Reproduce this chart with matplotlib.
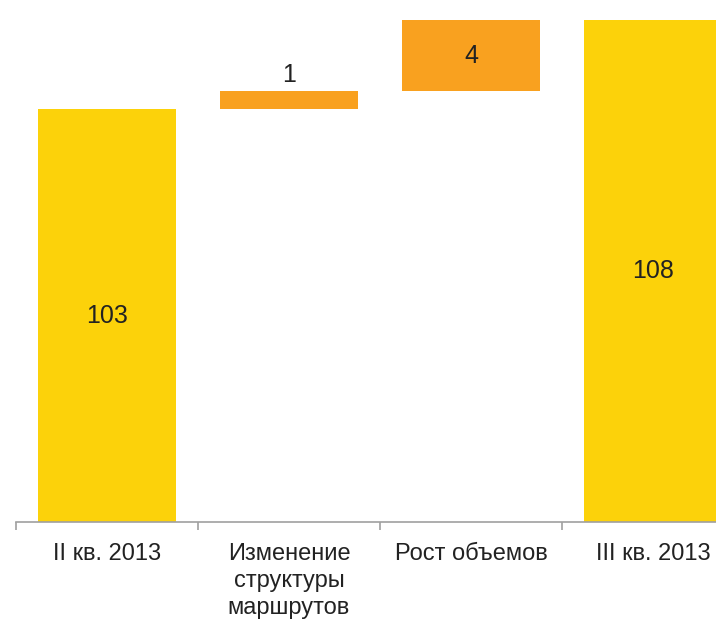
import matplotlib.pyplot as plt

plt.rcParams['font.family'] = ['Liberation Sans', 'DejaVu Sans']

categories = ["II кв. 2013", "Изменение\nструктуры\nмаршрутов", "Рост объемов", "III кв. 2013"]
start_value = 103
changes = [1, 4]
end_value = 108

yellow = "#FCD20A"
orange = "#F9A11F"
text_color = "#222222"

fig = plt.figure(figsize=(7.16, 6.21), dpi=100)
ax = fig.add_axes([16 / 716, 99 / 621, 728 / 716, 522 / 621])

width = 0.76
# totals
ax.bar(0, start_value, width=width, color=yellow)
ax.bar(3, end_value, width=width, color=yellow)

# increments stacked on the running total
base = start_value
for i, d in enumerate(changes, start=1):
    ax.bar(i, d, bottom=base, width=width, color=orange)
    base += d

ax.set_ylim(80, 109.1)
ax.set_xlim(-0.5, 3.5)

# value labels
ax.text(0, (80 + start_value) / 2, str(start_value), ha="center", va="center",
        fontsize=18, color=text_color)
ax.text(3, (80 + end_value) / 2, str(end_value), ha="center", va="center",
        fontsize=18, color=text_color)
ax.text(1, start_value + changes[0] + 0.25, str(changes[0]), ha="center", va="bottom",
        fontsize=18, color=text_color)
ax.text(2, start_value + changes[0] + changes[1] / 2, str(changes[1]), ha="center",
        va="center", fontsize=18, color=text_color)

for s in ["top", "right", "left"]:
    ax.spines[s].set_visible(False)
ax.spines["bottom"].set_color("#A0A0A0")
ax.spines["bottom"].set_linewidth(1.2)
ax.set_yticks([])

ax.set_xticks(range(len(categories)))
ax.set_xticklabels(categories, fontsize=17, color=text_color, linespacing=1.3)
ax.tick_params(axis="x", which="major", length=0, pad=15)
ax.set_xticks([-0.5, 0.5, 1.5, 2.5, 3.5], minor=True)
ax.tick_params(axis="x", which="minor", length=6, width=1.2, color="#A0A0A0", direction="out")

fig.savefig("out.png", dpi=100)
